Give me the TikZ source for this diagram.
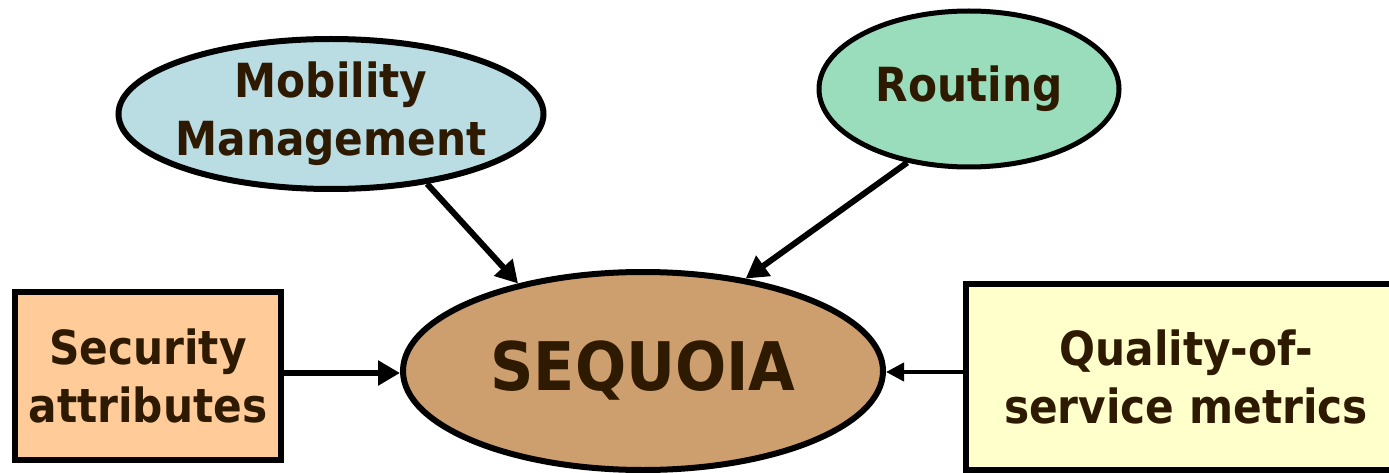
\documentclass[tikz,border=0pt]{standalone}
\usepackage{fontspec}
\setmainfont{DejaVu Sans Condensed}
\usetikzlibrary{shapes.geometric,arrows.meta}
\definecolor{txtbrown}{HTML}{2E1A00}
\definecolor{mobfill}{HTML}{BADDE4}
\definecolor{routfill}{HTML}{9ADDBD}
\definecolor{seqfill}{HTML}{CD9E6E}
\definecolor{secfill}{HTML}{FFCC99}
\definecolor{qosfill}{HTML}{FFFFCC}
\tikzset{
  lbl/.style={text=txtbrown, font=\fontsize{47}{58}\selectfont\bfseries, align=center, inner sep=0pt},
  oval/.style={ellipse, draw=black, line width=6pt, lbl},
  boxnode/.style={rectangle, draw=black, line width=6pt, lbl},
  conn/.style={line width=6pt, -{Triangle[length=22pt,width=24pt]}},
  thinconn/.style={line width=4pt, -{Triangle[length=18pt,width=18pt]}}
}
\begin{document}
\begin{tikzpicture}[x=1pt,y=-1pt]
\useasboundingbox (0,0) rectangle (1389,473);
\clip (0,0) rectangle (1389,473);
\node[oval, fill=mobfill, minimum width=425pt, minimum height=150pt, inner xsep=-30pt, inner ysep=-6pt] (mob) at (331,114) {Mobility\\Management};
\node[oval, fill=routfill, minimum width=300pt, minimum height=156pt, line width=5pt] (rout) at (969,89) {Routing};
\node[oval, fill=seqfill, minimum width=480pt, minimum height=198pt, font=\fontsize{67}{78}\selectfont\bfseries] (seq) at (643,371) {SEQUOIA};
\node[boxnode, fill=secfill, minimum width=266pt, minimum height=168pt] (sec) at (148,376) {Security\\attributes};
\node[boxnode, fill=qosfill, minimum width=440pt, minimum height=186pt] (qos) at (1186,377) {Quality-of-\\service metrics};
\draw[conn] (mob.-36.5) -- (seq.145.5);
\draw[conn] (rout.-130.4) -- (seq.42.4);
\draw[conn] (sec.east |- 0,373) -- (seq.west |- 0,373);
\draw[thinconn] (qos.west |- 0,372) -- (seq.east |- 0,372);
\end{tikzpicture}
\end{document}
